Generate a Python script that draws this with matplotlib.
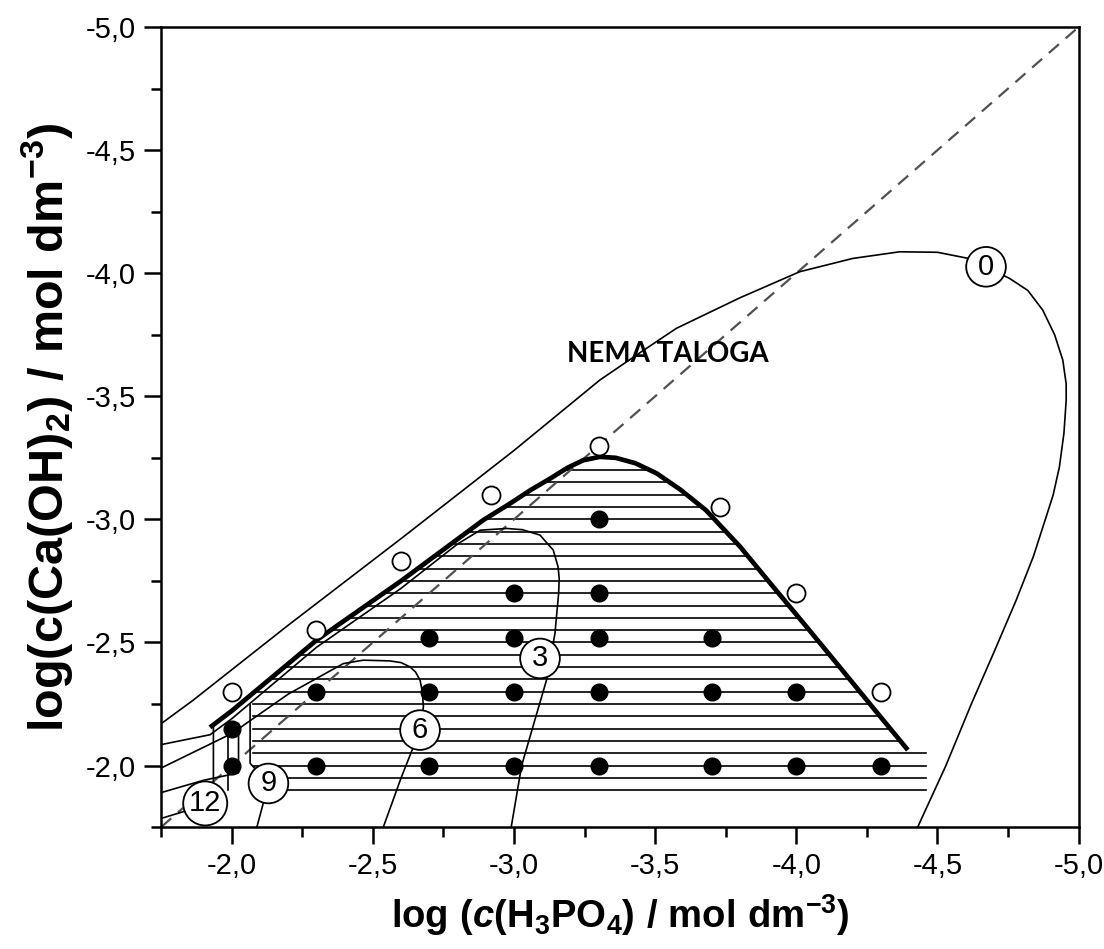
import matplotlib
matplotlib.use("Agg")
import matplotlib.pyplot as plt
import numpy as np
from matplotlib.ticker import MultipleLocator, FuncFormatter

plt.rcParams.update({"font.family": "Liberation Sans", "mathtext.fontset": "custom",
                     "mathtext.rm": "Liberation Sans:bold", "mathtext.bf": "Liberation Sans:bold",
                     "mathtext.it": "Liberation Sans:italic:bold"})

# open circles (boundary experiments)
open_x = [-2.0, -2.3, -2.6, -2.92, -3.3, -3.73, -4.0, -4.3]
open_y = [-2.3, -2.55, -2.83, -3.1, -3.3, -3.05, -2.7, -2.3]

# filled dots (precipitate found)
fill_x = [-2.0, -2.3, -2.7, -3.0, -3.3, -3.7, -4.0, -4.3,
          -2.3, -2.7, -3.0, -3.3, -3.7, -4.0,
          -2.7, -3.0, -3.3, -3.7,
          -3.0, -3.3,
          -3.3,
          -2.0]
fill_y = [-2.0] * 8 + [-2.3] * 6 + [-2.52] * 4 + [-2.7] * 2 + [-3.0] + [-2.15]

# thick precipitation boundary
bnd_x = [-1.923, -2.0, -2.301, -2.6, -2.891, -2.98, -3.06, -3.127, -3.19, -3.245, -3.304, -3.36, -3.43, -3.505,
         -3.59, -3.68, -3.80, -3.918, -4.035, -4.153, -4.275, -4.395]
bnd_y = [-2.155, -2.222, -2.51, -2.75, -2.997, -3.06, -3.12, -3.165, -3.21, -3.24, -3.254, -3.25, -3.228, -3.187,
         -3.12, -3.037, -2.89, -2.726, -2.565, -2.401, -2.23, -2.063]

# thin curves labelled 0, 3, 6, 9, 12
c0_x = [-1.75, -1.864, -2.2, -2.608, -3.0, -3.304, -3.45, -3.575, -3.8, -4.012, -4.2, -4.366, -4.5, -4.61,
        -4.672, -4.755, -4.82, -4.873, -4.915, -4.944, -4.956, -4.956, -4.948, -4.932, -4.91, -4.885,
        -4.84, -4.779, -4.70, -4.62, -4.53, -4.43]
c0_y = [-2.17, -2.266, -2.57, -2.929, -3.28, -3.566, -3.68, -3.776, -3.90, -4.006, -4.06, -4.087, -4.085, -4.06,
        -4.026, -3.979, -3.93, -3.85, -3.75, -3.647, -3.55, -3.484, -3.35, -3.213, -3.1, -3.01,
        -2.85, -2.672, -2.46, -2.25, -2.0, -1.75]
c3_x = [-2.99, -3.027, -3.07, -3.115, -3.145, -3.158, -3.16, -3.156, -3.139, -3.092, -3.03, -2.974, -2.88,
        -2.80, -2.60, -2.30, -2.0, -1.923, -1.75]
c3_y = [-1.75, -2.0, -2.17, -2.347, -2.537, -2.70, -2.76, -2.807, -2.875, -2.936, -2.958, -2.963, -2.956,
        -2.90, -2.72, -2.48, -2.19, -2.125, -2.085]
c6_x = [-2.537, -2.60, -2.667, -2.679, -2.675, -2.667, -2.651, -2.631, -2.60, -2.56, -2.466, -2.395, -2.2, -2.0, -1.75]
c6_y = [-1.75, -1.95, -2.144, -2.239, -2.30, -2.347, -2.38, -2.401, -2.418, -2.425, -2.428, -2.414, -2.29, -2.13, -1.99]
c9_x = [-2.089, -2.11, -2.13, -2.065, -2.065]
c9_y = [-1.75, -1.84, -1.927, -2.009, -2.246]
c9b_x = [-1.75, -1.90, -2.024, -2.024]
c9b_y = [-1.89, -1.94, -1.97, -2.17]
c12_x = [-1.75, -1.85, -1.906, -1.935, -1.935]
c12_y = [-1.785, -1.82, -1.846, -1.90, -2.16]
c12b_x = [-1.985, -1.985]
c12b_y = [-1.90, -2.17]

labels = ["0", "3", "6", "9", "12"]
label_x = [-4.672, -3.092, -2.667, -2.13, -1.906]
label_y = [-4.026, -2.435, -2.144, -1.927, -1.846]

fig = plt.figure(figsize=(11.04, 9.49), dpi=100)
ax = fig.add_axes([0.146, 0.1285, 0.831, 0.843])
ax.set_xlim(-1.75, -5.0)
ax.set_ylim(-1.75, -5.0)

# hatching of the precipitation region
lb = np.array(bnd_x[:11]); lby = np.array(bnd_y[:11])
rb = np.array(bnd_x[10:]); rby = np.array(bnd_y[10:])
for h in np.arange(-1.90, -3.26, -0.05):
    xl = min(-2.075, np.interp(-h, -lby, lb))
    xr = np.interp(h, rby, rb) if h < -2.063 else -4.46
    ax.plot([xl, xr], [h, h], color="black", lw=1.2, zorder=1)

ax.plot([-1.75, -5.0], [-1.75, -5.0], ls=(0, (6, 4)), color="#505050", lw=1.6, zorder=2)
for cx, cy in [(c0_x, c0_y), (c3_x, c3_y), (c6_x, c6_y), (c9_x, c9_y), (c9b_x, c9b_y),
               (c12_x, c12_y), (c12b_x, c12b_y)]:
    ax.plot(cx, cy, color="black", lw=1.2, solid_joinstyle="round", zorder=3)
ax.plot(bnd_x, bnd_y, color="black", lw=3.4, solid_capstyle="butt", solid_joinstyle="round", zorder=4)

ax.plot(fill_x, fill_y, "o", color="black", ms=12, zorder=5)
ax.plot(open_x, open_y, "o", mfc="white", mec="black", mew=1.3, ms=13, zorder=5)

for t, x, y in zip(labels, label_x, label_y):
    ax.text(x, y, t, ha="center", va="center", fontsize=21, zorder=6,
            bbox=dict(boxstyle="circle,pad=0.2", fc="white", ec="black", lw=1.3))

ax.text(-3.545, -3.671, "NEMA TALOGA", family="Lato", fontweight="bold", fontsize=20,
        ha="center", va="center", zorder=6)

ax.xaxis.set_major_locator(MultipleLocator(0.5)); ax.xaxis.set_minor_locator(MultipleLocator(0.25))
ax.yaxis.set_major_locator(MultipleLocator(0.5)); ax.yaxis.set_minor_locator(MultipleLocator(0.25))
fmt = FuncFormatter(lambda v, p: f"{v:.1f}".replace(".", ","))
ax.xaxis.set_major_formatter(fmt); ax.yaxis.set_major_formatter(fmt)
ax.tick_params(which="major", direction="out", length=12, width=1.8, labelsize=21, pad=6)
ax.tick_params(which="minor", direction="out", length=7, width=1.8)
for s in ax.spines.values():
    s.set_linewidth(1.8)

ax.set_xlabel(r"$\mathrm{log\ (}\mathit{c}\mathrm{(H_3PO_4)\ /\ mol\ dm^{-3})}$", fontsize=27.5, labelpad=9)
ax.set_ylabel(r"$\mathrm{log(c(Ca(OH)_2)\ /\ mol\ dm^{-3})}$", fontsize=35, labelpad=8)

fig.savefig("out.png")
